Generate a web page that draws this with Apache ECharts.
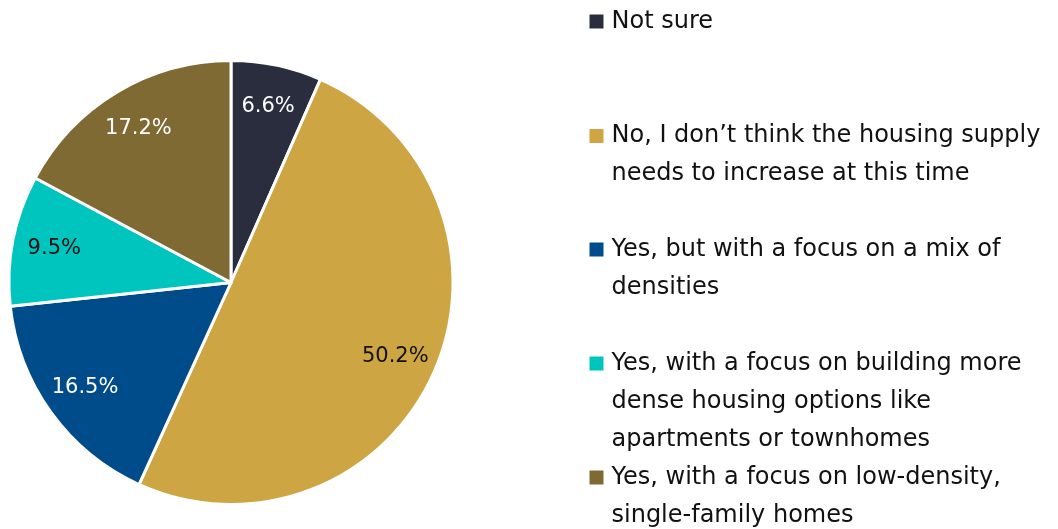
<!DOCTYPE html>
<html>
<head>
<meta charset="utf-8">
<style>
  html, body { margin: 0; padding: 0; background: #ffffff; }
  #chart { width: 1058px; height: 529px; }
</style>
<script src="https://cdn.jsdelivr.net/npm/echarts@6/dist/echarts.min.js"></script>
</head>
<body>
<div id="chart"></div>
<script>
// Survey responses: should the housing supply increase?
const categories = [
  'Not sure',
  'No, I don\u2019t think the housing supply needs to increase at this time',
  'Yes, but with a focus on a mix of densities',
  'Yes, with a focus on building more dense housing options like apartments or townhomes',
  'Yes, with a focus on low-density, single-family homes'
];
// Legend text, broken into lines
const legendLines = [
  ['Not sure'],
  ['No, I don\u2019t think the housing supply', 'needs to increase at this time'],
  ['Yes, but with a focus on a mix of', 'densities'],
  ['Yes, with a focus on building more', 'dense housing options like', 'apartments or townhomes'],
  ['Yes, with a focus on low-density,', 'single-family homes']
];
const shares = [6.6, 50.2, 16.5, 9.5, 17.2];
const colors = ['#2a2d3e', '#cda542', '#004b8a', '#00c5be', '#7f6a34'];
const labelColors = ['#ffffff', '#111111', '#ffffff', '#111111', '#ffffff'];

const FONT = "'DejaVu Sans', 'Open Sans', sans-serif";
const CX = 231, CY = 282.5, R = 222;
const LINE_H = 38;
const legendIconCenters = [21.5, 136, 249.5, 363.5, 477.5];

const pieData = categories.map((name, i) => ({
  name: name,
  value: shares[i],
  itemStyle: { color: colors[i] }
}));

// Transparent ring carrying the percentage labels further out than the pie's own inside position
const labelRingData = categories.map((name, i) => ({
  name: name,
  value: shares[i],
  label: { color: labelColors[i] }
}));

// One legend per answer; blank lines before the text keep its first line level with the swatch
const legends = categories.map((name, i) => {
  const n = legendLines[i].length;
  const lines = new Array(n - 1).fill(' ').concat(legendLines[i]);
  return {
    orient: 'vertical',
    left: 587.5,
    top: legendIconCenters[i] - (2 * n - 1) * LINE_H / 2,
    padding: 0,
    icon: 'rect',
    itemWidth: 16,
    itemHeight: 16,
    selectedMode: false,
    data: [name],
    formatter: () => lines.map(l => '{t|' + l + '}').join('\n'),
    textStyle: {
      fontFamily: FONT,
      fontSize: 24,
      color: '#111111',
      lineHeight: LINE_H,
      rich: {
        t: {
          fontFamily: FONT,
          fontSize: 24,
          color: '#111111',
          lineHeight: LINE_H,
          padding: [0, 0, 0, 2]
        }
      }
    }
  };
});

const chart = echarts.init(document.getElementById('chart'), null, { renderer: 'canvas' });
chart.setOption({
  animation: false,
  backgroundColor: '#ffffff',
  legend: legends,
  series: [
    {
      type: 'pie',
      center: [CX, CY],
      radius: [0, R],
      startAngle: 90,
      clockwise: true,
      label: { show: false },
      labelLine: { show: false },
      itemStyle: { borderColor: '#ffffff', borderWidth: 3 },
      emphasis: { disabled: true },
      data: pieData
    },
    {
      type: 'pie',
      center: [CX, CY],
      radius: [132, R],
      startAngle: 90,
      clockwise: true,
      silent: true,
      itemStyle: { color: 'rgba(0,0,0,0)', borderWidth: 0 },
      label: {
        show: true,
        position: 'inside',
        fontFamily: FONT,
        fontSize: 21,
        formatter: p => p.value.toFixed(1) + '%'
      },
      labelLine: { show: false },
      emphasis: { disabled: true },
      data: labelRingData
    }
  ]
});
</script>
</body>
</html>
